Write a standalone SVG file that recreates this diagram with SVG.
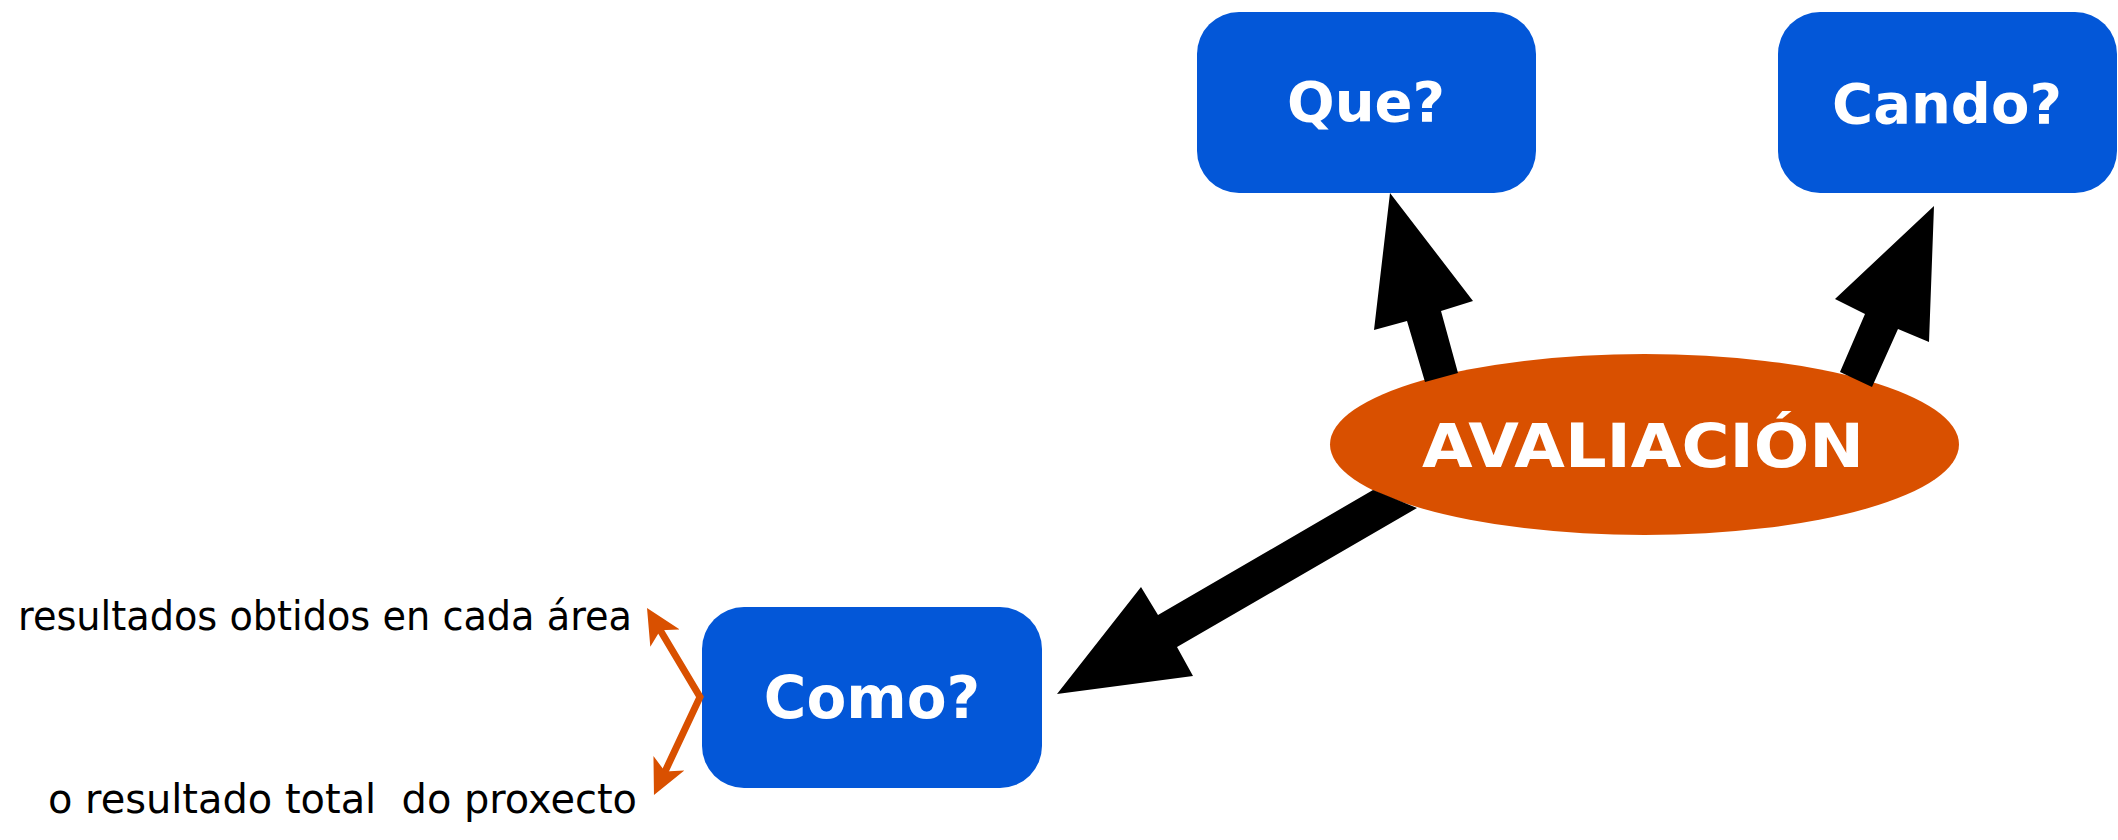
<svg xmlns="http://www.w3.org/2000/svg" width="2118" height="840" viewBox="0 0 2118 840">
  <style>
    .box { fill: #0357D8; }
    .blabel { fill: #ffffff; font-family: "DejaVu Sans", "Liberation Sans", sans-serif; font-weight: bold; text-anchor: middle; }
    .note { fill: #000000; font-family: "DejaVu Sans", "Open Sans", sans-serif; font-size: 40px; }
    .big { fill: #000000; }
    .orange { fill: none; stroke: #D95000; stroke-width: 7; stroke-linejoin: miter; }
  </style>
  <defs>
    <marker id="oh" markerUnits="userSpaceOnUse" markerWidth="36" markerHeight="34" viewBox="0 0 36 34" refX="10" refY="17" orient="auto-start-reverse">
      <path d="M0,0 L35,17 L0,34 L9,17 Z" fill="#D95000"/>
    </marker>
  </defs>
  <rect width="2118" height="840" fill="#ffffff"/>

  <g id="node-que">
    <rect class="box" x="1197" y="12" width="339" height="181" rx="42" ry="42"/>
    <text class="blabel" x="1366" y="121" font-size="56">Que?</text>
  </g>
  <g id="node-cando">
    <rect class="box" x="1778" y="12" width="339" height="181" rx="42" ry="42"/>
    <text class="blabel" x="1947" y="123" font-size="56">Cando?</text>
  </g>
  <g id="node-como">
    <rect class="box" x="702" y="607" width="340" height="181" rx="42" ry="42"/>
    <text class="blabel" x="872" y="718" font-size="58">Como?</text>
  </g>
  <g id="node-avaliacion">
    <ellipse cx="1644.5" cy="444.5" rx="314.5" ry="90.5" fill="#D95000"/>
    <text class="blabel" x="1643" y="467" font-size="60" textLength="442" lengthAdjust="spacingAndGlyphs">AVALIACIÓN</text>
  </g>
  <g id="node-resultados-area">
    <text class="note" x="18" y="630" textLength="614" lengthAdjust="spacingAndGlyphs">resultados obtidos en cada área</text>
  </g>
  <g id="node-resultado-total">
    <text class="note" x="48" y="813" textLength="589" lengthAdjust="spacingAndGlyphs" xml:space="preserve">o resultado total  do proxecto</text>
  </g>

  <g id="connectors">
    <polygon class="big" points="1390,193 1473,301 1441,311 1458,373 1425,382 1407,321 1374,330"/>
    <polygon class="big" points="1934,206 1929,342 1898,329 1872,387 1840,372 1865,314 1835,299"/>
    <polygon class="big" points="1057,694 1141,587 1158,615 1373,490 1417,508 1177,647 1193,676"/>
    <path class="orange" d="M659.8,629.5 L700,697 L664.6,772.4" marker-start="url(#oh)" marker-end="url(#oh)"/>
  </g>
</svg>
